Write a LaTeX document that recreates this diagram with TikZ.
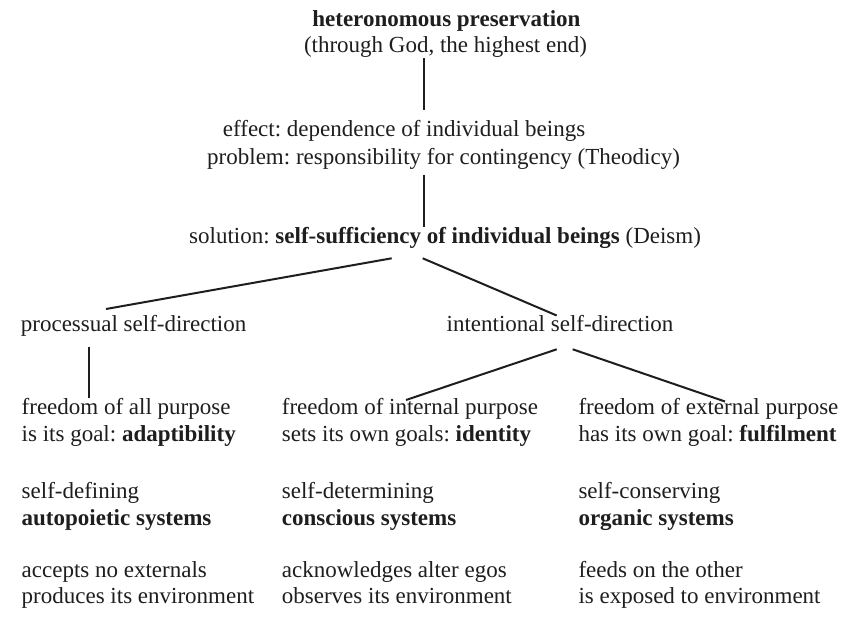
\documentclass[tikz,border=0pt]{standalone}
\usepackage{fontspec}
\setmainfont{Liberation Serif}
\usepackage{tikz}
\usetikzlibrary{calc, positioning}
\frenchspacing

\definecolor{ink}{HTML}{1E1E1E}

\tikzset{
	ctr/.style={inner sep=0pt, anchor=base, text=ink},
	lft/.style={inner sep=0pt, anchor=base west, text=ink},
	link/.style={draw=ink, line width=2pt}
}

\begin{document}
\begin{tikzpicture}[x=1pt, y=-1pt, font=\fontsize{23}{27}\selectfont]
						\useasboundingbox[fill=white] (0,0) rectangle (859,617);
						
						\node (title) at (446.4,26.7) [ctr] {\textbf{heteronomous preservation}};
						\node (godline) at (445.5,52.7) [ctr] {(through God, the highest end)};
						
						\node (effect) at (222.7,137) [lft] {effect: dependence of individual beings};
						\node (problem) at (207,164.5) [lft] {problem: responsibility for contingency (Theodicy)};
						\node (solution) at (189,244) [lft] {solution: \textbf{self-sufficiency of individual beings} (Deism)};
						
						\node (processual) at (20.7,331.7) [lft] {processual self-direction};
						\node (intentional) at (446.5,332) [lft] {intentional self-direction};
						
						\node (freedom1) at (21.5,414.5) [lft] {freedom of all purpose};
						\node (goal1) at (21.5,441) [lft] {is its goal: \textbf{adaptibility}};
						\node (self1) at (21.5,498.5) [lft] {self-defining};
						\node (system1) at (21.5,525) [lft] {\textbf{autopoietic systems}};
						\node (accepts1) at (21.5,577) [lft] {accepts no externals};
						\node (env1) at (21.5,603) [lft] {produces its environment};
						
						\node (freedom2) at (281.7,414.5) [lft] {freedom of internal purpose};
						\node (goal2) at (281.7,441) [lft] {sets its own goals: \textbf{identity}};
						\node (self2) at (281.7,498.5) [lft] {self-determining};
						\node (system2) at (281.7,525) [lft] {\textbf{conscious systems}};
						\node (accepts2) at (281.7,577) [lft] {acknowledges alter egos};
						\node (env2) at (281.7,603) [lft] {observes its environment};
						
						\node (freedom3) at (578.3,414.5) [lft] {freedom of external purpose};
						\node (goal3) at (578.3,441) [lft] {has its own goal: \textbf{fulfilment}};
						\node (self3) at (578.3,498.5) [lft] {self-conserving};
						\node (system3) at (578.3,525) [lft] {\textbf{organic systems}};
						\node (accepts3) at (578.3,577) [lft] {feeds on the other};
						\node (env3) at (578.3,603) [lft] {is exposed to environment};
						
						\draw[link] ($(godline.base)+(-21.5,5.6)$) -- ($(effect.base west)+(201.3,-27)$);
						\draw[link] ($(problem.base west)+(217,10.5)$) -- ($(solution.base west)+(235,-17)$);
						\draw[link] ($(solution.base west)+(202.7,14.3)$) -- ($(processual.base west)+(85.3,-22.7)$);
						\draw[link] ($(solution.base west)+(233.7,14.3)$) -- ($(intentional.base west)+(110.2,-16.5)$);
						\draw[link] ($(processual.base west)+(68.6,15.3)$) -- ($(freedom1.base west)+(67.8,-16.2)$);
						\draw[link] ($(intentional.base west)+(110.2,17.3)$) -- ($(freedom2.base west)+(124.3,-14.5)$);
						\draw[link] ($(intentional.base west)+(126.2,17.3)$) -- ($(freedom3.base west)+(146.7,-13)$);
					\end{tikzpicture}
\end{document}
